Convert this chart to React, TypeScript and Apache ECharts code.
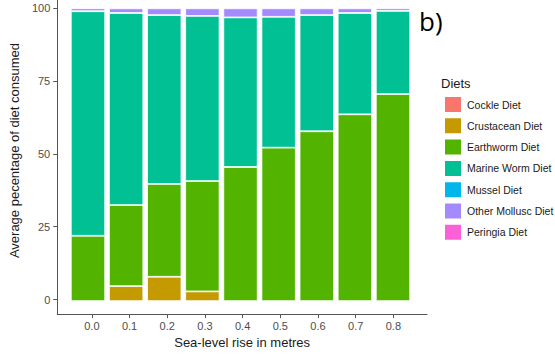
import React, { useEffect, useRef } from "react";
import * as echarts from "echarts";

const seaLevel = ["0.0", "0.1", "0.2", "0.3", "0.4", "0.5", "0.6", "0.7", "0.8"];
const xTicks = [0.0, 0.1, 0.2, 0.3, 0.4, 0.5, 0.6, 0.7, 0.8];
const yTicks = [0, 25, 50, 75, 100];

const dietNames = [
  "Cockle Diet",
  "Crustacean Diet",
  "Earthworm Diet",
  "Marine Worm Diet",
  "Mussel Diet",
  "Other Mollusc Diet",
  "Peringia Diet",
];
const dietColors = ["#F8766D", "#C49A00", "#53B400", "#00C094", "#00B6EB", "#A58AFF", "#FB61D7"];

const cockle = [0, 0, 0, 0, 0, 0, 0, 0, 0];
const crustacean = [0, 5.1, 8.3, 3.3, 0, 0, 0, 0, 0];
const earthworm = [22.3, 27.7, 31.7, 37.7, 45.8, 52.4, 58.0, 63.8, 70.7];
const marineWorm = [76.7, 65.6, 57.7, 56.4, 51.1, 44.7, 39.7, 34.6, 28.4];
const mussel = [0, 0, 0, 0, 0, 0, 0, 0, 0];
const otherMollusc = [1.0, 1.6, 2.3, 2.6, 3.1, 2.9, 2.3, 1.6, 0.9];
const peringia = [0, 0, 0, 0, 0, 0, 0, 0, 0];

const dietValues = [cockle, crustacean, earthworm, marineWorm, mussel, otherMollusc, peringia];

const FONT = "Liberation Sans, Arial, sans-serif";

export default function App() {
  const ref = useRef<HTMLDivElement>(null);
  useEffect(() => {
    if (!ref.current) return;
    document.body.style.margin = "0";
    const chart = echarts.init(ref.current, undefined, { renderer: "svg" });
    chart.setOption({
      animation: false,
      backgroundColor: "#ffffff",
      textStyle: { fontFamily: FONT },
      title: [
        {
          text: "b)",
          left: 414,
          top: 3,
          textStyle: { fontSize: 26, fontWeight: "normal", color: "#000", fontFamily: "Open Sans, sans-serif" },
        },
        {
          text: "Diets",
          left: 441,
          top: 77,
          padding: 0,
          textStyle: { fontSize: 13, fontWeight: "normal", color: "#1a1a1a", fontFamily: FONT },
        },
      ],
      legend: {
        data: dietNames,
        orient: "vertical",
        left: 443,
        top: 95,
        padding: 0,
        itemWidth: 18,
        itemHeight: 17,
        itemGap: 2.3,
        icon: "rect",
        textStyle: { fontSize: 10.5, color: "#1a1a1a", fontFamily: FONT },
        selectedMode: false,
      },
      grid: [
        { left: 53, right: 128, top: 0, bottom: 38.3, containLabel: false },
        { left: 68.94, right: 142.94, top: 0, bottom: 38.3, containLabel: false },
      ],
      xAxis: [
        {
          type: "value",
          gridIndex: 0,
          min: -0.0918,
          max: 0.8892,
          splitLine: { show: false },
          axisLine: { show: true, onZero: false, lineStyle: { color: "#555", width: 1 } },
          axisTick: { show: true, length: 4, customValues: xTicks, lineStyle: { color: "#555" } },
          axisLabel: {
            customValues: xTicks,
            formatter: (v: number) => v.toFixed(1),
            fontSize: 11,
            color: "#4d4d4d",
            margin: 6,
            fontFamily: FONT,
          },
          name: "Sea-level rise in metres",
          nameLocation: "middle",
          nameGap: 20,
          nameTextStyle: { fontSize: 13, color: "#1a1a1a", fontFamily: FONT },
        },
        {
          type: "category",
          gridIndex: 1,
          data: seaLevel,
          show: false,
        },
      ],
      yAxis: [
        {
          type: "value",
          gridIndex: 0,
          min: -5,
          max: 102.84,
          splitLine: { show: false },
          axisLine: { show: true, onZero: false, lineStyle: { color: "#555", width: 1 } },
          axisTick: { show: true, length: 4, customValues: yTicks, lineStyle: { color: "#555" } },
          axisLabel: {
            customValues: yTicks,
            fontSize: 11,
            color: "#4d4d4d",
            margin: 7,
            fontFamily: FONT,
          },
          name: "Average pecentage of diet consumed",
          nameLocation: "middle",
          nameGap: 25,
          nameTextStyle: { fontSize: 13, color: "#1a1a1a", fontFamily: FONT, padding: [0, 0, 0, 13] },
        },
        {
          type: "value",
          gridIndex: 1,
          min: -5,
          max: 102.84,
          show: false,
          splitLine: { show: false },
        },
      ],
      series: dietNames.map((name, i) => ({
        name,
        type: "bar",
        xAxisIndex: 1,
        yAxisIndex: 1,
        stack: "diet",
        barCategoryGap: "10%",
        data: dietValues[i].map((v) => (v === 0 ? null : v)),
        itemStyle: {
          color: dietColors[i],
          borderColor: "#ffffff",
          borderWidth: 0.8,
        },
        emphasis: { disabled: true },
      })),
    });
    return () => chart.dispose();
  }, []);
  return <div ref={ref} style={{ width: 555, height: 354 }} />;
}
